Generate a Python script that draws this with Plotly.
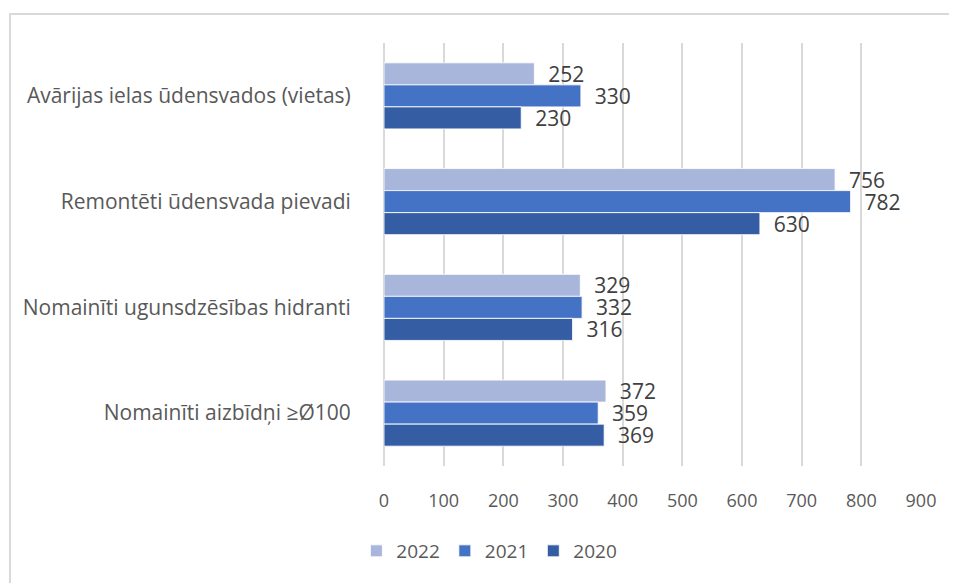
import plotly.graph_objects as go

categories = [
    "Avārijas ielas ūdensvados (vietas)",
    "Remontēti ūdensvada pievadi",
    "Nomainīti ugunsdzēsības hidranti",
    "Nomainīti aizbīdņi ≥Ø100",
]
series_names = ["2022", "2021", "2020"]
values_2022 = [252, 756, 329, 372]
values_2021 = [330, 782, 332, 359]
values_2020 = [230, 630, 316, 369]
x_ticks = [0, 100, 200, 300, 400, 500, 600, 700, 800, 900]

colors = ["#A9B6DB", "#4472C4", "#355DA3"]
series_values = [values_2022, values_2021, values_2020]

FONT = "Open Sans"
fig = go.Figure()
for name, vals, col in zip(series_names, series_values, colors):
    fig.add_trace(go.Bar(
        y=categories, x=vals, name=name, orientation="h",
        marker=dict(color=col, line=dict(color="rgba(255,255,255,0.85)", width=1)),
        text=vals, texttemplate="\u00a0\u00a0%{x}", textposition="outside",
        textfont=dict(family=FONT, size=21, color="#404040"),
        constraintext="none",
        cliponaxis=False,
    ))

fig.update_layout(
    width=957, height=583,
    margin=dict(l=376, r=44, t=35, b=125),
    paper_bgcolor="white", plot_bgcolor="white",
    barmode="group", bargap=0.375, bargroupgap=0,
    font=dict(family=FONT, size=18, color="#595959"),
    showlegend=True,
    legend=dict(orientation="h", xref="container", yref="container",
                x=0.503, y=0.0686, xanchor="center", yanchor="middle",
                font=dict(family=FONT, size=19, color="#595959"),
                itemwidth=30, traceorder="normal"),
    xaxis=dict(range=[0, 900], tickvals=x_ticks, showgrid=True,
               gridcolor="#D9D9D9", gridwidth=1.5, zeroline=True,
               zerolinecolor="#D9D9D9", zerolinewidth=1.5,
               ticks="outside", ticklen=18, tickcolor="rgba(0,0,0,0)",
               tickfont=dict(family=FONT, size=18, color="#595959"),
               fixedrange=True),
    yaxis=dict(autorange="reversed", showgrid=False, zeroline=False,
               ticks="outside", ticklen=28, tickcolor="rgba(0,0,0,0)",
               tickfont=dict(family=FONT, size=21, color="#595959")),
    shapes=[dict(type="rect", xref="paper", yref="paper",
                 x0=-0.6965, x1=1.3, y0=-0.5, y1=1.0686,
                 line=dict(color="#D9D9D9", width=2), fillcolor="rgba(0,0,0,0)",
                 layer="below")],
)

fig.write_html("out.html")
